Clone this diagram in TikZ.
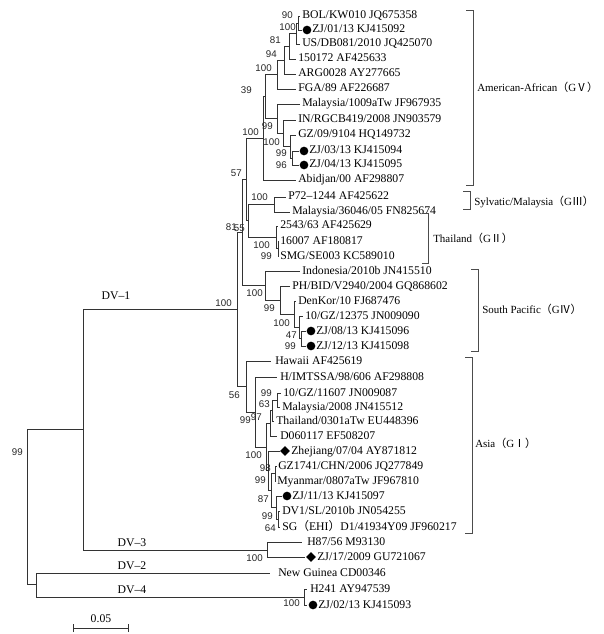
\documentclass[tikz,border=0pt]{standalone}
\usepackage{fontspec}
\setmainfont{Liberation Serif}
\setsansfont{Liberation Sans}
\newfontfamily\cjk{Noto Sans CJK SC}
\usetikzlibrary{shapes.geometric}
\newcommand{\leaffont}{\fontsize{8.8}{10}\selectfont}
\newcommand{\grpfont}{\fontsize{8.2}{10}\selectfont}
\newcommand{\bsfont}{\fontsize{7.3}{8}\sffamily}
\begin{document}
\begin{tikzpicture}[x=0.75pt,y=-0.75pt,
  br/.style={draw=black!80, line width=0.6pt},
  brk/.style={draw=black!70, line width=0.6pt},
  leaf/.style={anchor=west, inner sep=0pt, font=\leaffont, text height=6pt, text depth=1.5pt},
  grp/.style={anchor=west, inner sep=0pt, font=\grpfont, text height=6pt, text depth=1.5pt},
  bs/.style={anchor=east, inner sep=0pt, font=\bsfont, text=black!85},
  dot/.style={circle, fill=black, inner sep=0pt, minimum size=6.5pt},
  dia/.style={diamond, fill=black, inner sep=0pt, minimum size=7.5pt}]
\useasboundingbox (0,0) rectangle (603,634);

% ---------- internal nodes ----------
\coordinate (root) at (27,507.1);
\coordinate (dv13) at (83,429.75);
\coordinate (dv24) at (36,584.5);
\coordinate (dv1) at (237,309.5);
\coordinate (dv3) at (267,550);
\coordinate (dv4) at (304,597);
\coordinate (n81) at (242,232.55);
\coordinate (n57) at (246,179.6);
\coordinate (gv) at (263,138.3);
\coordinate (a6) at (265,96.6);
\coordinate (a5) at (277,74.6);
\coordinate (a4) at (284,60.1);
\coordinate (a3) at (289,46.25);
\coordinate (a2) at (296,33.5);
\coordinate (a1) at (298,23);
\coordinate (m4) at (277,118.6);
\coordinate (m3) at (283,133.25);
\coordinate (m2) at (290,146.5);
\coordinate (m1) at (292,158);
\coordinate (n55) at (248,220.9);
\coordinate (sylv) at (274,204.5);
\coordinate (thai) at (276,237.25);
\coordinate (t1) at (278,248.5);
\coordinate (sp) at (265,285.5);
\coordinate (sp2) at (280,300.05);
\coordinate (sp3) at (294,314.1);
\coordinate (sp4) at (299,327.25);
\coordinate (sp5) at (301,338.5);
\coordinate (n56) at (246,386.5);
\coordinate (n99) at (255,412);
\coordinate (n100) at (266,447);
\coordinate (g1) at (270,423.25);
\coordinate (g1a) at (272,410.5);
\coordinate (g1b) at (277,400);
\coordinate (g2) at (268,470.75);
\coordinate (g2a) at (271,490.5);
\coordinate (g2b) at (275,473.5);
\coordinate (g2c) at (276,507.5);
\coordinate (g2d) at (278,519);

% ---------- leaves ----------
\coordinate (tBOL) at (300,16);   \node[leaf] (BOL) at (302,16) {BOL/KW010 JQ675358};
\coordinate (tZJ01) at (302,30);  \node[dot] (mZJ01) at (307,30) {}; \node[leaf] (ZJ01) at (312,30) {ZJ/01/13 KJ415092};
\coordinate (tUS) at (300,44);    \node[leaf] (US) at (302,44) {US/DB081/2010 JQ425070};
\coordinate (t150) at (296,59);   \node[leaf] (L150) at (298,59) {150172 AF425633};
\coordinate (tARG) at (296,74);   \node[leaf] (ARG) at (298,74) {ARG0028 AY277665};
\coordinate (tFGA) at (296,89);   \node[leaf] (FGA) at (298,89) {FGA/89 AF226687};
\coordinate (tM1009) at (300,104); \node[leaf] (M1009) at (302,104) {Malaysia/1009aTw JF967935};
\coordinate (tIN) at (296,120);   \node[leaf] (IN) at (298,120) {IN/RGCB419/2008 JN903579};
\coordinate (tGZ09) at (296,135); \node[leaf] (GZ09) at (298,135) {GZ/09/9104 HQ149732};
\coordinate (tZJ03) at (299,151); \node[dot] (mZJ03) at (304,151) {}; \node[leaf] (ZJ03) at (309,151) {ZJ/03/13 KJ415094};
\coordinate (tZJ04) at (299,165); \node[dot] (mZJ04) at (304,165) {}; \node[leaf] (ZJ04) at (309,165) {ZJ/04/13 KJ415095};
\coordinate (tAbi) at (296,180);  \node[leaf] (Abi) at (298,180) {Abidjan/00 AF298807};
\coordinate (tP72) at (286,197);  \node[leaf] (P72) at (288,197) {P72–1244 AF425622};
\coordinate (tM36) at (290,212);  \node[leaf] (M36) at (292,212) {Malaysia/36046/05 FN825674};
\coordinate (t2543) at (278,226); \node[leaf] (L2543) at (280,226) {2543/63 AF425629};
\coordinate (t16007) at (279,241); \node[leaf] (L16007) at (280,241) {16007 AF180817};
\coordinate (tSMG) at (279,256);  \node[leaf] (SMG) at (280,256) {SMG/SE003 KC589010};
\coordinate (tIndo) at (300,271); \node[leaf] (Indo) at (302,271) {Indonesia/2010b JN415510};
\coordinate (tPH) at (290,286);   \node[leaf] (PH) at (292,286) {PH/BID/V2940/2004 GQ868602};
\coordinate (tDen) at (296,301);  \node[leaf] (Den) at (298,301) {DenKor/10 FJ687476};
\coordinate (tGZ12) at (303,316); \node[leaf] (GZ12) at (305,316) {10/GZ/12375 JN009090};
\coordinate (tZJ08) at (306,331); \node[dot] (mZJ08) at (311,331) {}; \node[leaf] (ZJ08) at (316,331) {ZJ/08/13 KJ415096};
\coordinate (tZJ12) at (306,346); \node[dot] (mZJ12) at (311,346) {}; \node[leaf] (ZJ12) at (316,346) {ZJ/12/13 KJ415098};
\coordinate (tHaw) at (271,361);  \node[leaf] (Haw) at (275,361) {Hawaii AF425619};
\coordinate (tHIM) at (277,377);  \node[leaf] (HIM) at (280,377) {H/IMTSSA/98/606 AF298808};
\coordinate (tGZ11) at (281,393); \node[leaf] (GZ11) at (283,393) {10/GZ/11607 JN009087};
\coordinate (tM08) at (280,407);  \node[leaf] (M08) at (282,407) {Malaysia/2008 JN415512};
\coordinate (tThai) at (274,421); \node[leaf] (ThaiL) at (276,421) {Thailand/0301aTw EU448396};
\coordinate (tD06) at (277,436);  \node[leaf] (D06) at (280,436) {D060117 EF508207};
\coordinate (tZhe) at (280,451);  \node[dia] (mZhe) at (285,451) {}; \node[leaf] (Zhe) at (291,451) {Zhejiang/07/04 AY871812};
\coordinate (tGZ17) at (276.5,466); \node[leaf] (GZ17) at (278,466) {GZ1741/CHN/2006 JQ277849};
\coordinate (tMya) at (276,481);  \node[leaf] (Mya) at (277,481) {Myanmar/0807aTw JF967810};
\coordinate (tZJ11) at (282,496); \node[dot] (mZJ11) at (287,496) {}; \node[leaf] (ZJ11) at (292,496) {ZJ/11/13 KJ415097};
\coordinate (tDVSL) at (280,511); \node[leaf] (DVSL) at (282,511) {DV1/SL/2010b JN054255};
\coordinate (tSG) at (280,527);   \node[leaf] (SG) at (282,527) {SG{\cjk（}EHI{\cjk）}D1/41934Y09 JF960217};
\coordinate (tH87) at (302,542);  \node[leaf] (H87) at (307,542) {H87/56 M93130};
\coordinate (tZJ17) at (305,557); \node[dia] (mZJ17) at (311,557) {}; \node[leaf] (ZJ17) at (317,557) {ZJ/17/2009 GU721067};
\coordinate (tNG) at (270,573);   \node[leaf] (NG) at (278,573) {New Guinea CD00346};
\coordinate (tH241) at (307,589); \node[leaf] (H241) at (310,589) {H241 AY947539};
\coordinate (tZJ02) at (307,605); \node[dot] (mZJ02) at (313,605) {}; \node[leaf] (ZJ02) at (318,605) {ZJ/02/13 KJ415093};

% ---------- branches ----------
\draw[br] (root) |- (dv13);  \draw[br] (root) |- (dv24);
\draw[br] (dv13) |- (dv1);   \draw[br] (dv13) |- (dv3);
\draw[br] (dv24) |- (tNG);   \draw[br] (dv24) |- (dv4);
\draw[br] (dv3) |- (tH87);   \draw[br] (dv3) |- (tZJ17);
\draw[br] (dv4) |- (tH241);  \draw[br] (dv4) |- (tZJ02);
\draw[br] (dv1) |- (n81);    \draw[br] (dv1) |- (n56);
\draw[br] (n81) |- (n57);    \draw[br] (n81) |- (sp);
\draw[br] (n57) |- (gv);     \draw[br] (n57) |- (n55);
\draw[br] (gv) |- (a6);      \draw[br] (gv) |- (tAbi);
\draw[br] (a6) |- (a5);      \draw[br] (a6) |- (m4);
\draw[br] (a5) |- (a4);      \draw[br] (a5) |- (tFGA);
\draw[br] (a4) |- (a3);      \draw[br] (a4) |- (tARG);
\draw[br] (a3) |- (a2);      \draw[br] (a3) |- (t150);
\draw[br] (a2) |- (a1);      \draw[br] (a2) |- (tUS);
\draw[br] (a1) |- (tBOL);    \draw[br] (a1) |- (tZJ01);
\draw[br] (m4) |- (tM1009);  \draw[br] (m4) |- (m3);
\draw[br] (m3) |- (tIN);     \draw[br] (m3) |- (m2);
\draw[br] (m2) |- (tGZ09);   \draw[br] (m2) |- (m1);
\draw[br] (m1) |- (tZJ03);   \draw[br] (m1) |- (tZJ04);
\draw[br] (n55) |- (sylv);   \draw[br] (n55) |- (thai);
\draw[br] (sylv) |- (tP72);  \draw[br] (sylv) |- (tM36);
\draw[br] (thai) |- (t2543); \draw[br] (thai) |- (t1);
\draw[br] (t1) |- (t16007);  \draw[br] (t1) |- (tSMG);
\draw[br] (sp) |- (tIndo);   \draw[br] (sp) |- (sp2);
\draw[br] (sp2) |- (tPH);    \draw[br] (sp2) |- (sp3);
\draw[br] (sp3) |- (tDen);   \draw[br] (sp3) |- (sp4);
\draw[br] (sp4) |- (tGZ12);  \draw[br] (sp4) |- (sp5);
\draw[br] (sp5) |- (tZJ08);  \draw[br] (sp5) |- (tZJ12);
\draw[br] (n56) |- (tHaw);   \draw[br] (n56) |- (n99);
\draw[br] (n99) |- (tHIM);   \draw[br] (n99) |- (n100);
\draw[br] (n100) |- (g1);    \draw[br] (n100) |- (g2);
\draw[br] (g1) |- (g1a);     \draw[br] (g1) |- (tD06);
\draw[br] (g1a) |- (g1b);    \draw[br] (g1a) |- (tThai);
\draw[br] (g1b) |- (tGZ11);  \draw[br] (g1b) |- (tM08);
\draw[br] (g2) |- (tZhe);    \draw[br] (g2) |- (g2a);
\draw[br] (g2a) |- (g2b);    \draw[br] (g2a) |- (g2c);
\draw[br] (g2b) |- (tGZ17);  \draw[br] (g2b) |- (tMya);
\draw[br] (g2c) |- (tZJ11);  \draw[br] (g2c) |- (g2d);
\draw[br] (g2d) |- (tDVSL);  \draw[br] (g2d) |- (tSG);

% ---------- bootstrap values ----------
\node[bs] (b1) at (293,15) {90};
\node[bs] (b2) at (296,27) {100};
\node[bs] (b3) at (281,40) {81};
\node[bs] (b4) at (277,54) {94};
\node[bs] (b5) at (272,68) {100};
\node[bs] (b6) at (252,90) {39};
\node[bs] (b7) at (273,126) {99};
\node[bs] (b8) at (280,142) {100};
\node[bs] (b9) at (287,153) {99};
\node[bs] (b10) at (287,165) {96};
\node[bs] (b11) at (259,132) {100};
\node[bs] (b12) at (242,173) {57};
\node[bs] (b13) at (237,227) {81};
\node[bs] (b14) at (245,228) {55};
\node[bs] (b15) at (268,197) {100};
\node[bs] (b16) at (270,245) {100};
\node[bs] (b17) at (272,256) {99};
\node[bs] (b18) at (232,303) {100};
\node[bs] (b19) at (263,293) {100};
\node[bs] (b20) at (275,308) {99};
\node[bs] (b21) at (290,323) {100};
\node[bs] (b22) at (297,335) {47};
\node[bs] (b23) at (296,346) {99};
\node[bs] (b24) at (240,395) {56};
\node[bs] (b25) at (251,420) {99};
\node[bs] (b26) at (272,393) {99};
\node[bs] (b27) at (270,404) {63};
\node[bs] (b28) at (262,417) {97};
\node[bs] (b29) at (262,455) {100};
\node[bs] (b30) at (271,468) {98};
\node[bs] (b31) at (266,480) {99};
\node[bs] (b32) at (269,499) {87};
\node[bs] (b33) at (273,516) {99};
\node[bs] (b34) at (276,528) {64};
\node[bs] (b35) at (263,558) {100};
\node[bs] (b36) at (23,452) {99};
\node[bs] (b37) at (300,603) {100};

% ---------- serotype labels ----------
\node[leaf, anchor=center] (lDV1) at (116,296) {DV–1};
\node[leaf, anchor=center] (lDV3) at (132,543) {DV–3};
\node[leaf, anchor=center] (lDV2) at (132,566) {DV–2};
\node[leaf, anchor=center] (lDV4) at (132,590) {DV–4};

% ---------- genotype brackets ----------
\draw[brk] (466,10) -- (473,10) -- (473,185) -- (466,185);
\node[grp] (gGV) at (477,89) {American-African{\cjk（}G{\cjk Ⅴ）}};
\draw[brk] (463,191) -- (470,191) -- (470,209) -- (463,209);
\node[grp] (gGIII) at (474,203) {Sylvatic/Malaysia{\cjk（}G{\cjk Ⅲ）}};
\draw[brk] (422,213) -- (428,213) -- (428,263) -- (422,263);
\node[grp] (gGII) at (433,240) {Thailand{\cjk（}G{\cjk Ⅱ）}};
\draw[brk] (471,269) -- (478,269) -- (478,351) -- (471,351);
\node[grp] (gGIV) at (482,310) {South Pacific{\cjk（}G{\cjk Ⅳ）}};
\draw[brk] (465,357) -- (472,357) -- (472,533) -- (465,533);
\node[grp] (gGI) at (475,444) {Asia{\cjk（}G{\cjk Ⅰ）}};

% ---------- scale bar ----------
\coordinate (sb1) at (73,628);
\coordinate (sb2) at (128,628);
\draw[br] (sb1) -- (sb2);
\draw[br] ([yshift=-3pt]sb1) -- ([yshift=3pt]sb1);
\draw[br] ([yshift=-3pt]sb2) -- ([yshift=3pt]sb2);
\node[leaf, anchor=center] (sbl) at (101,619) {0.05};
\end{tikzpicture}
\end{document}
